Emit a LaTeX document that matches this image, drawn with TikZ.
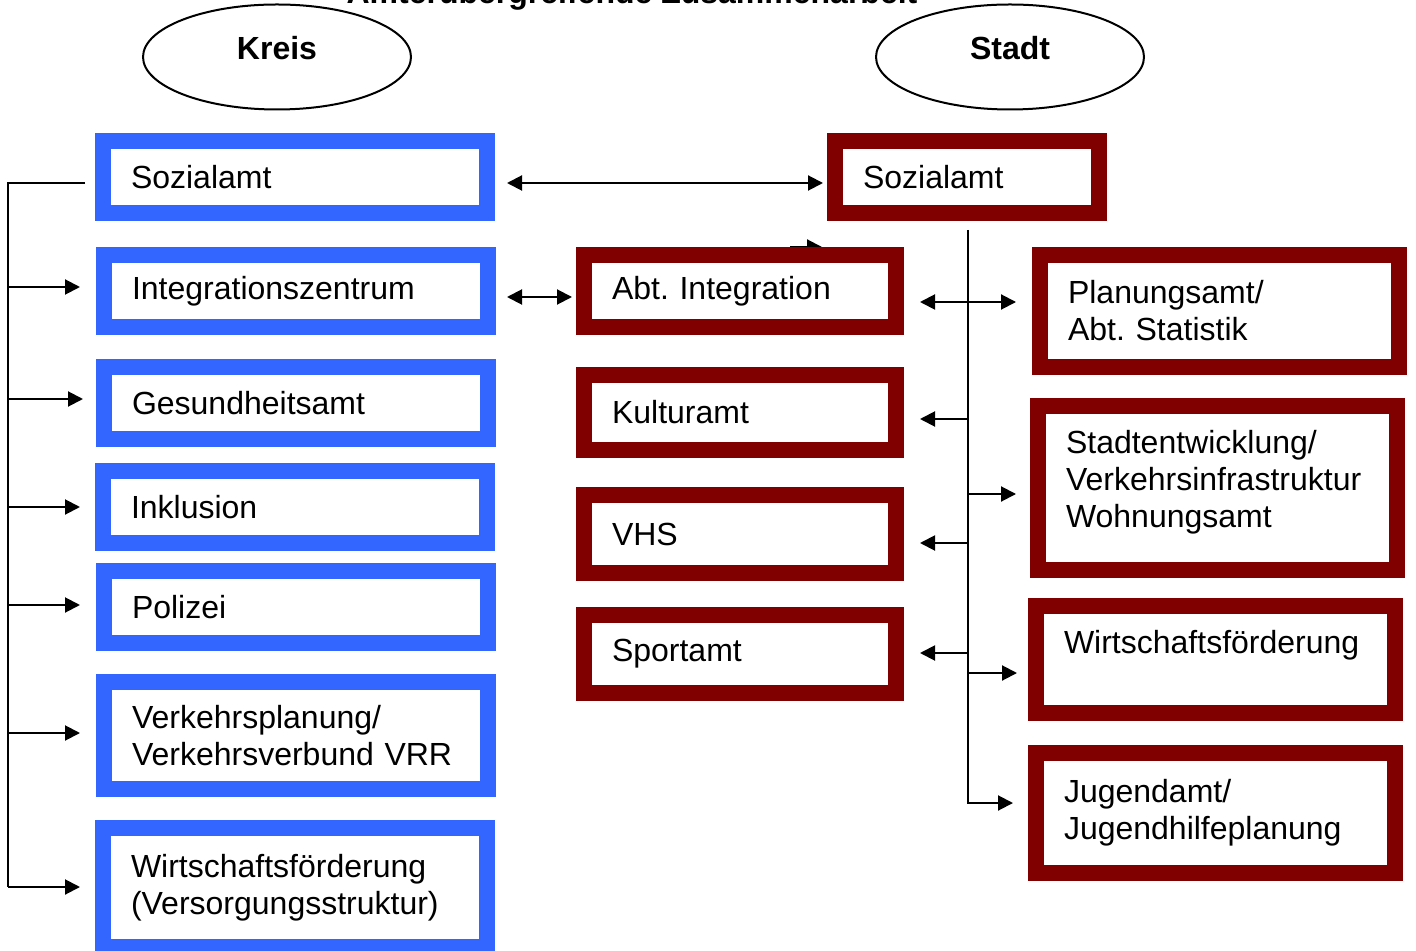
\documentclass[tikz,border=0pt]{standalone}
\usepackage{fontspec}
\setmainfont{Liberation Sans}
\usetikzlibrary{arrows.meta,shapes.geometric}
\definecolor{kblue}{HTML}{3366FF}
\definecolor{sred}{HTML}{800000}
\newcommand\bigf{\fontsize{16pt}{18.5pt}\selectfont}
\newcommand\mybox[7]{%
  \pgfmathsetmacro\bw{(#5-#3-16)*0.5}%
  \pgfmathsetmacro\tw{(#5-#3-16)*0.5-28}%
  \pgfmathsetmacro\bh{(#6-#4-16)*0.5}%
  \pgfmathsetmacro\cx{(#3+#5)/2}%
  \pgfmathsetmacro\cy{(#4+#6)/2}%
  \node[#2, minimum width=\bw pt, minimum height=\bh pt, text width=\tw pt] (#1) at (\cx,\cy) {\hyphenpenalty=10000\relax #7};}
\begin{document}
\begin{tikzpicture}[x=0.5pt,y=-0.5pt,
  font=\bigf,
  ln/.style={line width=1pt, black},
  arr/.style={ln, -{Triangle[length=7.5pt,width=7.5pt]}},
  darr/.style={ln, {Triangle[length=7.5pt,width=7.5pt]}-{Triangle[length=7.5pt,width=7.5pt]}},
  boxbase/.style={rectangle, line width=8pt, fill=white, inner xsep=14pt, inner ysep=0pt, align=left, anchor=center},
  kbox/.style={boxbase, draw=kblue},
  sbox/.style={boxbase, draw=sred},
  ell/.style={ellipse, draw, line width=1pt, minimum width=134pt, minimum height=52.5pt, inner sep=0pt},
  head/.style={font=\bigf\bfseries}]
\useasboundingbox (0,0) rectangle (1416,951);

% title (cut off at top, as in the original)
\node[head, anchor=base] (title) at (632,4) {Ämterübergreifende Zusammenarbeit};

% ellipses
\node[ell] (kreis) at (277,57) {};
\node[head] (kreistxt) at ([yshift=4.5pt]kreis.center) {Kreis};
\node[ell] (stadt) at (1010,57) {};
\node[head] (stadttxt) at ([yshift=4.5pt]stadt.center) {Stadt};

% partly hidden arrow head
\coordinate (h1) at (790,247);
\coordinate (h2) at (822,247);
\draw[arr] (h1) -- (h2);

% Kreis boxes
\mybox{ksoz}{kbox}{95}{133}{495}{221}{Sozialamt}
\mybox{kint}{kbox}{96}{247}{496}{335}{Integrationszentrum}
\mybox{kges}{kbox}{96}{359}{496}{447}{Gesundheitsamt}
\mybox{kink}{kbox}{95}{463}{495}{551}{Inklusion}
\mybox{kpol}{kbox}{96}{563}{496}{651}{Polizei}
\mybox{kver}{kbox}{96}{674}{496}{797}{Verkehrsplanung/\\Verkehrsverbund VRR}
\mybox{kwir}{kbox}{95}{820}{495}{955}{Wirtschaftsförderung\\(Versorgungsstruktur)}

% Stadt boxes
\mybox{ssoz}{sbox}{827}{133}{1107}{221}{Sozialamt}
\mybox{sabt}{sbox}{576}{247}{904}{335}{Abt.\ Integration}
\mybox{skul}{sbox}{576}{367}{904}{458}{Kulturamt}
\mybox{svhs}{sbox}{576}{487}{904}{581}{VHS}
\mybox{sspo}{sbox}{576}{607}{904}{701}{Sportamt}
\mybox{spla}{sbox}{1032}{247}{1407}{375}{Planungsamt/\\Abt.\ Statistik}
\mybox{sste}{sbox, text depth=46.4pt}{1030}{398}{1405}{578}{Stadtentwicklung/\\Verkehrsinfrastruktur\\Wohnungsamt}
\mybox{swir}{sbox, text height=11.7pt, text depth=17.7pt}{1028}{598}{1403}{721}{Wirtschaftsförderung}
\mybox{sjug}{sbox}{1028}{745}{1403}{881}{Jugendamt/\\Jugendhilfeplanung}

% left bracket
\coordinate (l183) at (8,183);
\coordinate (l287) at (8,287);
\coordinate (l399) at (8,399);
\coordinate (l507) at (8,507);
\coordinate (l605) at (8,605);
\coordinate (l733) at (8,733);
\coordinate (l887) at (8,887);
\draw[ln, shorten <=5pt] (l183 -| ksoz.west) -- (l183) -- (l887);
\draw[arr, shorten >=8pt] (l287) -- (l287 -| kint.west);
\draw[arr, shorten >=6.5pt] (l399) -- (l399 -| kges.west);
\draw[arr, shorten >=7.5pt] (l507) -- (l507 -| kink.west);
\draw[arr, shorten >=8pt] (l605) -- (l605 -| kpol.west);
\draw[arr, shorten >=8pt] (l733) -- (l733 -| kver.west);
\draw[arr, shorten >=7.5pt] (l887) -- (l887 -| kwir.west);

% middle links
\coordinate (m183) at (0,183);
\coordinate (m297) at (0,297);
\draw[darr, shorten <=6pt, shorten >=2pt] (m183 -| ksoz.east) -- (m183 -| ssoz.west);
\draw[darr, shorten <=5.5pt, shorten >=2pt] (m297 -| kint.east) -- (m297 -| sabt.west);

% right distributor
\coordinate (rtop) at (968,230);
\coordinate (rbot) at (968,803);
\coordinate (t302) at (968,302);
\coordinate (t419) at (968,419);
\coordinate (t494) at (968,494);
\coordinate (t543) at (968,543);
\coordinate (t653) at (968,653);
\coordinate (t673) at (968,673);
\draw[arr, shorten >=7.5pt] (rtop) -- (rbot) -- (rbot -| sjug.west);
\draw[darr, shorten <=8pt, shorten >=8pt] (t302 -| sabt.east) -- (t302 -| spla.west);
\draw[arr, shorten >=8pt] (t419) -- (t419 -| skul.east);
\draw[arr, shorten >=7pt] (t494) -- (t494 -| sste.west);
\draw[arr, shorten >=8pt] (t543) -- (t543 -| svhs.east);
\draw[arr, shorten >=8pt] (t653) -- (t653 -| sspo.east);
\draw[arr, shorten >=5.5pt] (t673) -- (t673 -| swir.west);
\end{tikzpicture}
\end{document}
